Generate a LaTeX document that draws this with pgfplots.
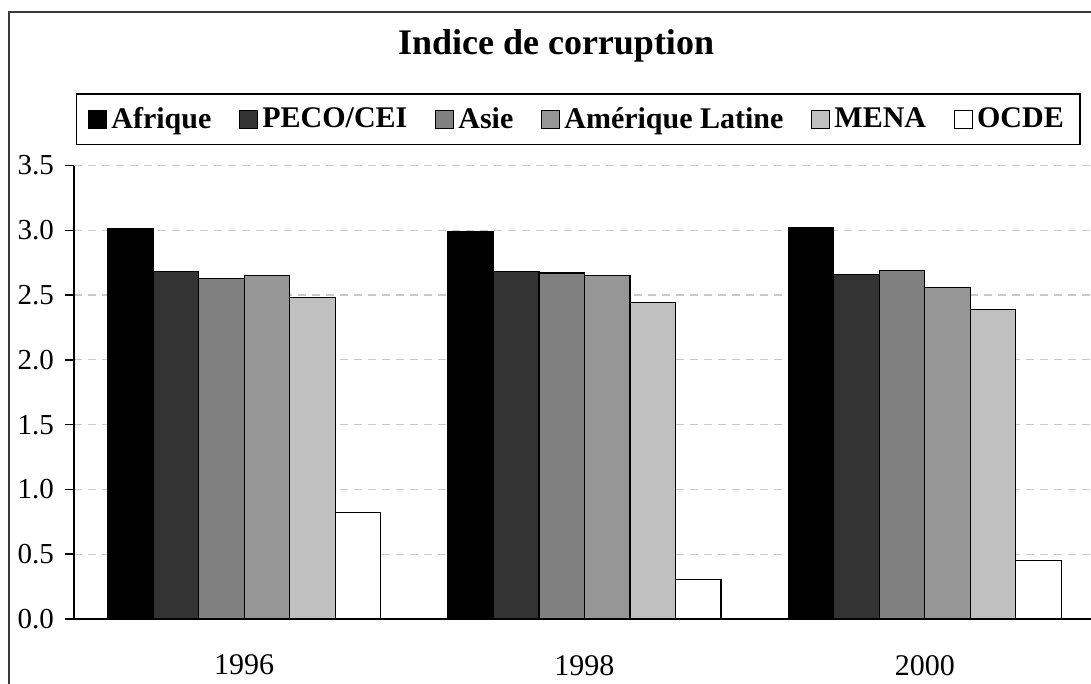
\documentclass[border=0pt]{standalone}
\usepackage{pgfplots}
\pgfplotsset{compat=1.18}
\usepackage{fontspec}
\setmainfont{Liberation Serif}
\definecolor{cAf}{HTML}{000000}
\definecolor{cPe}{HTML}{333333}
\definecolor{cAs}{HTML}{808080}
\definecolor{cAm}{HTML}{969696}
\definecolor{cMe}{HTML}{C0C0C0}
\definecolor{cOc}{HTML}{FFFFFF}
\definecolor{gridc}{HTML}{C8C8C8}
\definecolor{framec}{HTML}{3A3A3A}
\begin{document}
\begin{tikzpicture}
\clip (0pt,0pt) rectangle (545.5pt,342pt);
\fill[white] (0pt,0pt) rectangle (545.5pt,342pt);
\draw[framec, line width=1pt] (4.5pt,-10pt) rectangle (560pt,336pt);
\node[anchor=base, font=\fontsize{18}{21}\selectfont\bfseries] at (278pt,314.5pt) {Indice de corruption};
\begin{axis}[
  at={(37pt,32.5pt)}, anchor=south west,
  scale only axis, width=510.45pt, height=226.75pt,
  xmin=-0.5, xmax=2.5, ymin=0, ymax=3.5,
  ybar=0pt, bar width=22.75pt,
  axis x line*=bottom, axis y line*=left,
  axis line style={line width=0.75pt, -},
  xtick={0,1,2}, xticklabels={1996,1998,2000},
  x tick style={draw=none},
  ytick={0,0.5,1,1.5,2,2.5,3,3.5},
  y tick style={line width=0.75pt, black},
  tick align=outside, major tick length=4.5pt,
  yticklabel style={/pgf/number format/fixed, /pgf/number format/fixed zerofill, /pgf/number format/precision=1, /pgf/number format/assume math mode=true, font=\fontsize{14.5}{17}\selectfont, xshift=-2pt},
  xticklabel style={font=\fontsize{15}{18}\selectfont, yshift=-10pt},
  ymajorgrids, grid style={gridc, dash pattern=on 4pt off 3pt, line width=0.6pt},
  legend columns=6,
  legend cell align=left,
  legend style={at={(rel axis cs:0,1)}, anchor=south west, xshift=0.8pt, yshift=10.25pt,
    draw=black, line width=0.75pt, inner xsep=6pt, inner ysep=4.5pt,
    font=\fontsize{15}{18}\selectfont\bfseries,
    /tikz/every even column/.append style={column sep=12pt}},
  legend image code/.code={\draw[#1, line width=0.5pt, draw=black] (0pt,-4.5pt) rectangle (9pt,4.5pt);},
  every axis plot/.append style={draw=black, line width=0.6pt},
]
\addplot[fill=cAf] coordinates {(0,3.015) (1,2.99) (2,3.02)};
\addplot[fill=cPe] coordinates {(0,2.68) (1,2.68) (2,2.66)};
\addplot[fill=cAs] coordinates {(0,2.63) (1,2.67) (2,2.69)};
\addplot[fill=cAm] coordinates {(0,2.65) (1,2.65) (2,2.56)};
\addplot[fill=cMe] coordinates {(0,2.48) (1,2.44) (2,2.39)};
\addplot[fill=cOc] coordinates {(0,0.823) (1,0.306) (2,0.45)};
\legend{Afrique,PECO/CEI,Asie,Amérique Latine,MENA,OCDE}
\end{axis}
\end{tikzpicture}
\end{document}
